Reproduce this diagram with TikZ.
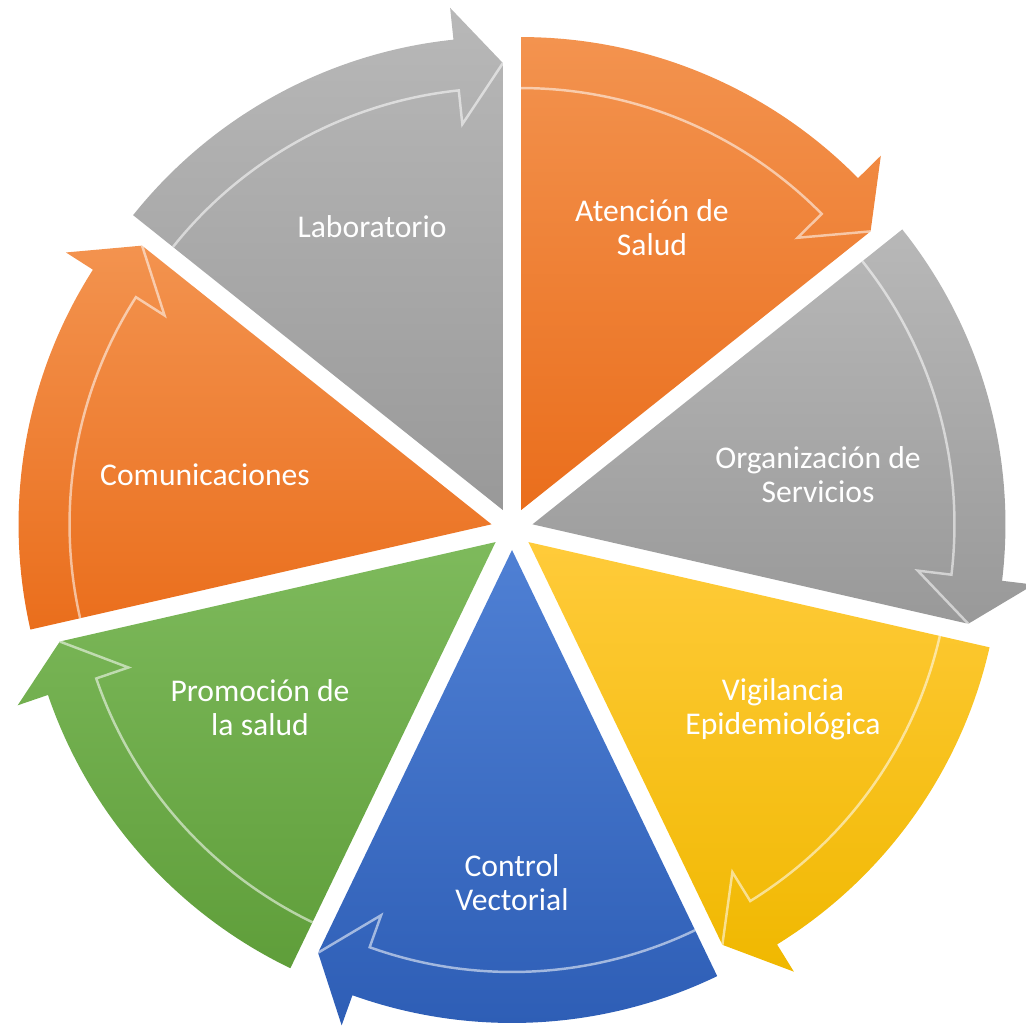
\documentclass[tikz,border=0pt]{standalone}
\usepackage{fontspec}
\setmainfont{Carlito}
\usetikzlibrary{calc}
\definecolor{orT}{HTML}{F3934F}
\definecolor{orB}{HTML}{EA6E1C}
\definecolor{grT}{HTML}{B8B8B8}
\definecolor{grB}{HTML}{999999}
\definecolor{yeT}{HTML}{FFCB3A}
\definecolor{yeB}{HTML}{F0B800}
\definecolor{blT}{HTML}{4F80D4}
\definecolor{blB}{HTML}{2D5DB5}
\definecolor{gnT}{HTML}{7EBA5C}
\definecolor{gnB}{HTML}{5F9E3A}
\tikzset{
  lbl/.style={text=white, align=center, font=\fontsize{18}{19.5}\selectfont, inner sep=0pt},
  bevel/.style={white, opacity=.55, line width=1.4pt, line join=miter}
}
\newcommand{\drawsegment}[3]{%
  \pgfmathsetmacro{\segS}{#1+25.714}%
  \pgfmathsetmacro{\segE}{#1-25.714}%
  \pgfmathsetmacro{\segH}{\segE+6}%
  \coordinate (T) at ($(512,498)+(#1:21)$);%
  \shade[top color=#2, bottom color=#3]
    (T) -- ($(T)+(\segS:473)$)
    arc[start angle=\segS, end angle=\segH, radius=473]
    -- ($(T)+(\segH:505)$) -- ($(T)+(\segE:447)$) -- cycle;%
  \draw[bevel] ($(T)+(\segS:422)$)
    arc[start angle=\segS, end angle=\segH, radius=422]
    -- ($(T)+(\segH:388)$) -- ($(T)+(\segE:447)$);%
}
\begin{document}
\begin{tikzpicture}[x=0.02cm, y=0.02cm]
\useasboundingbox (0,0) rectangle (1026,1027);
\drawsegment{64.286}{orT}{orB}
\drawsegment{12.857}{grT}{grB}
\drawsegment{-38.571}{yeT}{yeB}
\drawsegment{-90}{blT}{blB}
\drawsegment{-141.429}{gnT}{gnB}
\drawsegment{-192.857}{orT}{orB}
\drawsegment{115.714}{grT}{grB}
\node[lbl] (aten) at (652,799) {Atención de\\Salud};
\node[lbl] (org) at (818,552) {Organización de\\Servicios};
\node[lbl] (vig) at (783,318) {Vigilancia\\Epidemiológica};
\node[lbl] (ctrl) at (512,144) {Control\\Vectorial};
\node[lbl] (prom) at (260,319) {Promoción de\\la salud};
\node[lbl] (com) at (205,552) {Comunicaciones};
\node[lbl] (lab) at (372,800) {Laboratorio};
\end{tikzpicture}
\end{document}
